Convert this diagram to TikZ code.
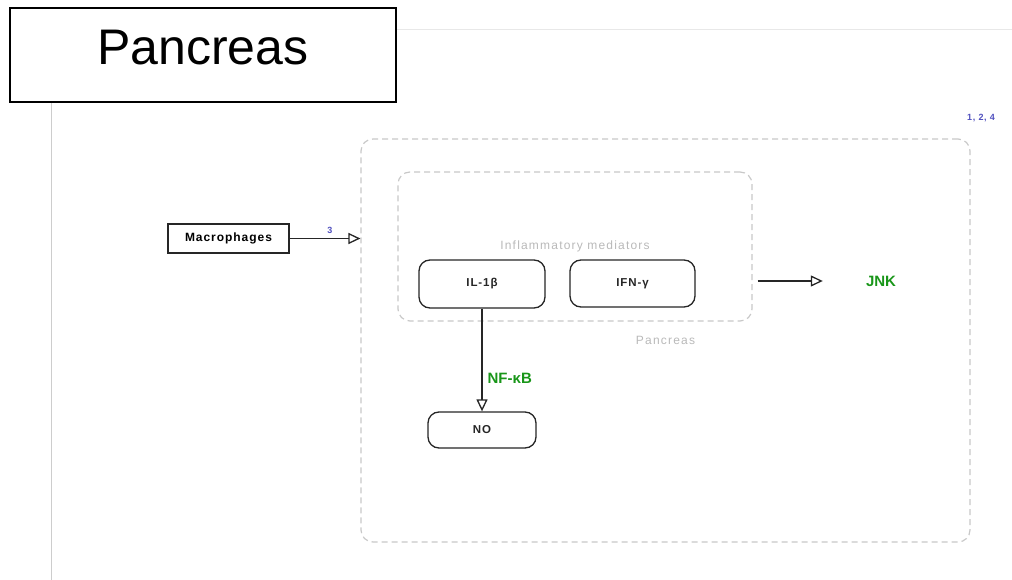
\documentclass[tikz,border=0pt]{standalone}
\usepackage{fontspec}
\setmainfont{Liberation Sans}
\newfontfamily\titlefont{Liberation Sans}
\newfontfamily\spacedfont[LetterSpace=10]{Liberation Sans}
\newfontfamily\spacedbold[LetterSpace=8]{Liberation Sans Bold}
\usetikzlibrary{arrows.meta}
\definecolor{grpline}{RGB}{200,200,200}
\definecolor{grptext}{RGB}{185,185,185}
\definecolor{rulegray}{RGB}{205,205,205}
\definecolor{rulelight}{RGB}{232,232,232}
\definecolor{refblue}{RGB}{80,80,190}
\definecolor{genegreen}{RGB}{25,150,25}
\tikzset{
  group/.style={draw=grpline, dashed, dash pattern=on 6pt off 4pt, line width=1.2pt,
    rounded corners=12pt, text=grptext, font=\spacedfont\fontsize{12}{14}\selectfont, inner sep=0pt},
  entity/.style={draw=black!85, line width=1.3pt, rounded corners=11pt, fill=white,
    text=black!85, font=\spacedbold\fontsize{11.5}{14}\selectfont, inner sep=0pt},
  cellbox/.style={draw=black!85, line width=1.3pt, fill=white,
    font=\spacedbold\fontsize{12}{14}\selectfont, inner sep=0pt},
  gene/.style={text=genegreen, font=\bfseries\fontsize{15}{17}\selectfont, inner sep=0pt},
  ref/.style={text=refblue, font=\spacedbold\fontsize{9}{11}\selectfont, inner sep=0pt},
  arr/.style={draw=black!85, line width=1.3pt, -{Triangle[open, length=12pt, width=11pt, line width=1.3pt]}},
}
\begin{document}
\begin{tikzpicture}[x=1pt, y=-1pt]
  \useasboundingbox (0,0) rectangle (1012,580);
  % page rules
  \draw[rulelight, line width=0.8pt] (396,29) -- (1012,29);
  \draw[rulegray, line width=0.8pt] (51,102) -- (51,580);
  % title
  \node[draw=black, line width=1.2pt, fill=white, minimum width=386pt, minimum height=94pt, inner sep=0pt]
    (title) at (203,55) {};
  \node[anchor=base, font=\titlefont\fontsize{50}{56}\selectfont, inner sep=0pt]
    (titletext) at (203,65) {Pancreas};
  % compartments
  \node[group, minimum width=609pt, minimum height=403pt] (outer) at (665.5,340.5) {Pancreas};
  \node[group, minimum width=354pt, minimum height=149pt] (infl) at (575,246.5) {Inflammatory mediators};
  % entities
  \node[entity, minimum width=126pt, minimum height=48pt] (il) at (482,284) {IL-1β};
  \node[entity, minimum width=125pt, minimum height=47pt] (ifn) at (632.5,283.5) {IFN-γ};
  \node[entity, minimum width=108pt, minimum height=36pt] (no) at (482,430) {NO};
  \node[cellbox, minimum width=121pt, minimum height=29pt] (mac) at (228.5,238.5) {Macrophages};
  \node[gene] (jnk) at (881,281) {JNK};
  \node[ref] (refs) at (981,118) {1, 2, 4};
  % interactions
  \draw[arr] (mac.east) -- (mac.east -| outer.west)
    node[ref, pos=0.57, above=4pt] (r3) {3};
  \draw[arr] (il.south) -- (no.north)
    node[gene, pos=0.68, right=5pt] (nfkb) {NF-κB};
  \draw[arr] ([xshift=5pt]infl.east |- jnk) -- ([xshift=-43pt]jnk.west);
\end{tikzpicture}
\end{document}
